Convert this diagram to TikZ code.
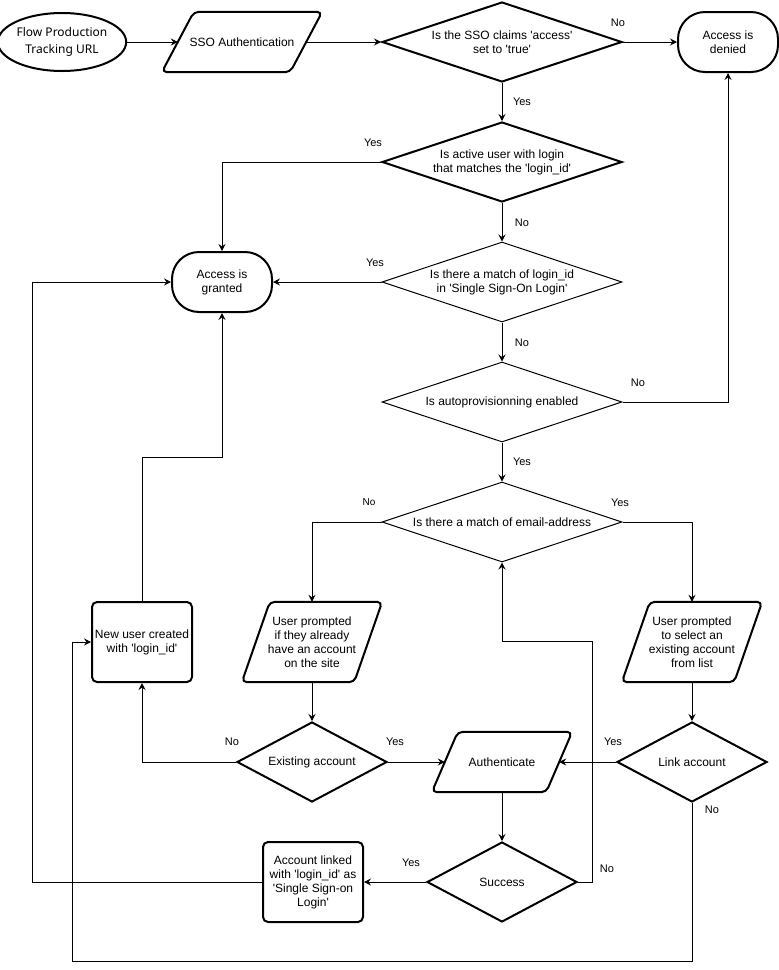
\documentclass[tikz,border=0pt]{standalone}
\usepackage{fontspec}
\setmainfont{Liberation Sans}[Ligatures=TeXOff]
\newfontfamily\notosans{Noto Sans}
\usetikzlibrary{shapes.geometric,arrows.meta}

\begin{document}
\begin{tikzpicture}[x=1pt,y=-1pt,
  every node/.style={font=\fontsize{12}{14}\selectfont, align=center, inner sep=0pt},
  thickline/.style={line width=2pt, line join=round},
  dec/.style={diamond, draw, line width=2pt, shape aspect=3, minimum width=240pt, minimum height=80pt},
  decthin/.style={diamond, draw, line width=1pt, shape aspect=3, minimum width=240pt, minimum height=80pt},
  smalldec/.style={diamond, draw, line width=2pt, shape aspect=1.875, minimum width=150pt, minimum height=80pt},
  terminal/.style={rectangle, draw, line width=2pt, rounded corners=27pt, minimum width=100pt, minimum height=60pt},
  procbox/.style={rectangle, draw, line width=2pt, rounded corners=5pt, minimum width=100pt, minimum height=80pt},
  paraslot/.style n args={2}{rectangle, minimum width=#1, minimum height=#2},
  conn/.style={line width=1pt, -{Stealth[length=7pt,width=7pt,inset=2.5pt]}},
  lbl/.style={font=\fontsize{11}{13}\selectfont},
]
\useasboundingbox (0,0) rectangle (779,970);

% nodes
\node[ellipse, draw, line width=2pt, minimum width=118pt, minimum height=58pt,
      font=\notosans\fontsize{12}{17}\selectfont] (url) at (62,42) {Flow Production\\Tracking URL};
\node[paraslot={160pt}{60pt}] (sso) at (242,42) {SSO Authentication};
\node[dec] (d1) at (502,42) {Is the SSO claims 'access'\\set to 'true'};
\node[terminal] (denied) at (728,42) {Access is\\denied};
\node[dec] (d2) at (502,162) {Is active user with login\\that matches the 'login\_id'};
\node[terminal] (granted) at (222,282) {Access is\\granted};
\node[decthin] (d3) at (502,282) {Is there a match of login\_id\\in 'Single Sign-On Login'};
\node[decthin] (d4) at (502,402) {Is autoprovisionning enabled};
\node[decthin] (d5) at (502,522) {Is there a match of email-address};
\node[paraslot={140pt}{80pt}] (p1) at (312,642) {User prompted\\if they already\\have an account\\on the site};
\node[paraslot={140pt}{80pt}] (p2) at (692,642) {User prompted\\to select an\\existing account\\from list};
\node[procbox] (newuser) at (142,642) {New user created\\with 'login\_id'};
\node[smalldec] (exist) at (312,762) {Existing account};
\node[paraslot={140pt}{60pt}] (auth) at (502,762) {Authenticate};
\node[smalldec] (link) at (692,762) {Link account};
\node[smalldec] (success) at (502,882) {Success};
\node[procbox] (linked) at (313,882) {Account linked\\with 'login\_id' as\\'Single Sign-on\\Login'};

% parallelogram outlines
\draw[thickline, rounded corners=5pt] ([xshift=32pt]sso.north west) -- (sso.north east) -- ([xshift=-32pt]sso.south east) -- (sso.south west) -- cycle;
\draw[thickline, rounded corners=5pt] ([xshift=28pt]p1.north west) -- (p1.north east) -- ([xshift=-28pt]p1.south east) -- (p1.south west) -- cycle;
\draw[thickline, rounded corners=5pt] ([xshift=28pt]p2.north west) -- (p2.north east) -- ([xshift=-28pt]p2.south east) -- (p2.south west) -- cycle;
\draw[thickline, rounded corners=5pt] ([xshift=26pt]auth.north west) -- (auth.north east) -- ([xshift=-26pt]auth.south east) -- (auth.south west) -- cycle;

% junction coordinates
\coordinate (j1) at (222,457);
\coordinate (j2) at (592,641);
\coordinate (j3) at (32,282);
\coordinate (j4) at (72,961);

% connectors
\draw[conn] (url.east) -- ([xshift=16pt]sso.west);
\draw[conn] ([xshift=-16pt]sso.east) -- (d1.west);
\draw[conn] (d1.east) -- (denied.west);
\draw[conn] (d1.south) -- (d2.north);
\draw[conn] (d2.west) -| (granted.north);
\draw[conn] (d2.south) -- (d3.north);
\draw[conn] (d3.west) -- (granted.east);
\draw[conn] (d3.south) -- (d4.north);
\draw[conn] (d4.east) -| (denied.south);
\draw[conn] (d4.south) -- (d5.north);
\draw[conn] (d5.west) -| (p1.north);
\draw[conn] (d5.east) -| (p2.north);
\draw[conn] (p1.south) -- (exist.north);
\draw[conn] (p2.south) -- (link.north);
\draw[conn] (exist.west) -| (newuser.south);
\draw[conn] (exist.east) -- ([xshift=13pt]auth.west);
\draw[conn] (link.west) -- ([xshift=-13pt]auth.east);
\draw[conn] (newuser.north) |- (j1) -- (granted.south);
\draw[conn] (auth.south) -- (success.north);
\draw[conn] (success.west) -- (linked.east);
\draw[conn] (success.east) -| (j2) -| (d5.south);
\draw[conn] (linked.west) -| (j3) -- (granted.west);
\draw[conn] (link.south) |- (j4) |- (newuser.west);

% labels
\node[lbl] (l1) at (618,23) {No};
\node[lbl] (l2) at (522,102) {Yes};
\node[lbl] (l3) at (373,143) {Yes};
\node[lbl] (l4) at (522,223) {No};
\node[lbl] (l5) at (375,263) {Yes};
\node[lbl] (l6) at (522,343) {No};
\node[lbl] (l7) at (638,383) {No};
\node[lbl] (l8) at (522,462) {Yes};
\node[lbl, font=\fontsize{10}{12}\selectfont] (l9) at (369,502) {No};
\node[lbl] (l10) at (620,503) {Yes};
\node[lbl] (l11) at (232,742) {No};
\node[lbl] (l12) at (395,742) {Yes};
\node[lbl] (l13) at (613,742) {Yes};
\node[lbl] (l14) at (712,810) {No};
\node[lbl] (l15) at (411,863) {Yes};
\node[lbl] (l16) at (607,869) {No};
\end{tikzpicture}
\end{document}
